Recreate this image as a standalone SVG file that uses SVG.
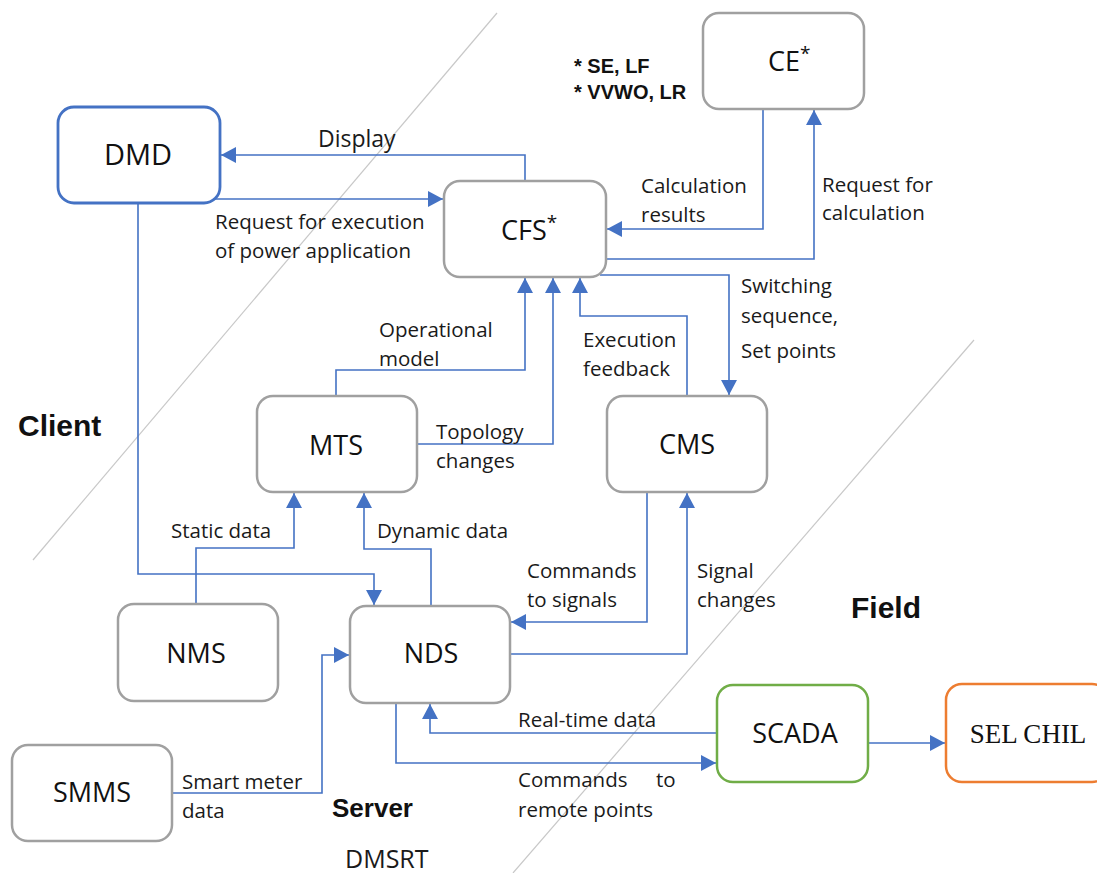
<svg xmlns="http://www.w3.org/2000/svg" width="1097" height="873" viewBox="0 0 1097 873">
<style>
.box{fill:#fff;stroke:#a0a0a0;stroke-width:2.5}
.nl{font-family:"Open Sans","Noto Sans",sans-serif;font-size:27px;fill:#111;text-anchor:middle}
.lb{font-family:"Open Sans","Noto Sans",sans-serif;font-size:20.5px;fill:#1a1a1a}
.bd{font-family:"Liberation Sans",Arial,sans-serif;font-weight:bold;fill:#111}
.cn{fill:none;stroke:#4472C4;stroke-width:1.6}
.dg{stroke:#c8c8c8;stroke-width:1.2}
</style>
<defs>
<marker id="ah" markerUnits="userSpaceOnUse" markerWidth="15" markerHeight="16" refX="15" refY="8" orient="auto">
<path d="M0,0 L15,8 L0,16 z" fill="#4472C4"/>
</marker>
</defs>
<rect width="1097" height="873" fill="#fff"/>
<g id="dividers">
<line class="dg" x1="497" y1="13" x2="33" y2="560"/>
<line class="dg" x1="974" y1="340" x2="513" y2="873"/>
</g>
<g id="connectors">
<path class="cn" d="M525,181 V155 H221" marker-end="url(#ah)"/>
<path class="cn" d="M210,199 H443" marker-end="url(#ah)"/>
<path class="cn" d="M138,203 V574 H374 V605" marker-end="url(#ah)"/>
<path class="cn" d="M763,109 V229 H607" marker-end="url(#ah)"/>
<path class="cn" d="M604,259 H814 V110" marker-end="url(#ah)"/>
<path class="cn" d="M600,275 H729 V395" marker-end="url(#ah)"/>
<path class="cn" d="M336,396 V370 H525 V278" marker-end="url(#ah)"/>
<path class="cn" d="M417,444 H553 V278" marker-end="url(#ah)"/>
<path class="cn" d="M687,396 V316 H580 V278" marker-end="url(#ah)"/>
<path class="cn" d="M196,604 V548 H294 V493" marker-end="url(#ah)"/>
<path class="cn" d="M431,606 V549 H364 V493" marker-end="url(#ah)"/>
<path class="cn" d="M647,492 V622 H511" marker-end="url(#ah)"/>
<path class="cn" d="M510,654 H687 V493" marker-end="url(#ah)"/>
<path class="cn" d="M172,793 H322 V655 H349" marker-end="url(#ah)"/>
<path class="cn" d="M717,733 H430 V704" marker-end="url(#ah)"/>
<path class="cn" d="M396,703 V763 H716" marker-end="url(#ah)"/>
<path class="cn" d="M868,743 H945" marker-end="url(#ah)"/>
</g>
<g id="DMD"><rect x="58" y="107" width="162" height="96" rx="16" fill="#fff" stroke="#4472C4" stroke-width="2.8"/><text class="nl" x="138" y="165" style="font-size:29px">DMD</text></g>
<g id="CFS"><rect class="box" x="444" y="181" width="162" height="96" rx="16"/><text class="nl" x="501" y="240" style="text-anchor:start">CFS<tspan dy="-11" style="font-size:19px">*</tspan></text></g>
<g id="CE"><rect class="box" x="703" y="13" width="161" height="96" rx="16"/><text class="nl" x="768" y="71" style="text-anchor:start">CE<tspan dy="-11" style="font-size:19px">*</tspan></text></g>
<g id="MTS"><rect class="box" x="257" y="396" width="160" height="96" rx="16"/><text class="nl" x="336" y="455">MTS</text></g>
<g id="CMS"><rect class="box" x="607" y="396" width="160" height="96" rx="16"/><text class="nl" x="687" y="454">CMS</text></g>
<g id="NMS"><rect class="box" x="118" y="604" width="160" height="97" rx="16"/><text class="nl" x="196" y="663">NMS</text></g>
<g id="NDS"><rect class="box" x="350" y="606" width="160" height="97" rx="16"/><text class="nl" x="431" y="663">NDS</text></g>
<g id="SMMS"><rect class="box" x="12" y="745" width="160" height="96" rx="16"/><text class="nl" x="92" y="802">SMMS</text></g>
<g id="SCADA"><rect x="717" y="685" width="151" height="97" rx="16" fill="#fff" stroke="#70AD47" stroke-width="2.5"/><text class="nl" x="795" y="743">SCADA</text></g>
<g id="SELCHIL"><rect x="946" y="684" width="162" height="98" rx="16" fill="#fff" stroke="#ED7D31" stroke-width="2.5"/><text x="1028" y="743" font-family="'Liberation Serif','Times New Roman',serif" font-size="27" fill="#111" text-anchor="middle">SEL CHIL</text></g>
<g id="labels">
<text class="lb" x="318" y="147" style="font-size:23px">Display</text>
<text class="lb" x="215" y="229">Request for execution</text>
<text class="lb" x="215" y="258">of power application</text>
<text class="lb" x="641" y="193">Calculation</text>
<text class="lb" x="641" y="222">results</text>
<text class="lb" x="822" y="192">Request for</text>
<text class="lb" x="822" y="220">calculation</text>
<text class="lb" x="741" y="293">Switching</text>
<text class="lb" x="741" y="323">sequence,</text>
<text class="lb" x="741" y="358">Set points</text>
<text class="lb" x="379" y="337">Operational</text>
<text class="lb" x="379" y="366">model</text>
<text class="lb" x="436" y="439">Topology</text>
<text class="lb" x="436" y="468">changes</text>
<text class="lb" x="583" y="347">Execution</text>
<text class="lb" x="583" y="376">feedback</text>
<text class="lb" x="171" y="538">Static data</text>
<text class="lb" x="377" y="538">Dynamic data</text>
<text class="lb" x="527" y="578">Commands</text>
<text class="lb" x="527" y="607">to signals</text>
<text class="lb" x="697" y="578">Signal</text>
<text class="lb" x="697" y="607">changes</text>
<text class="lb" x="518" y="727">Real-time data</text>
<text class="lb" x="518" y="787">Commands</text>
<text class="lb" x="656" y="787">to</text>
<text class="lb" x="518" y="817">remote points</text>
<text class="lb" x="182" y="789">Smart meter</text>
<text class="lb" x="182" y="818">data</text>
<text class="bd" x="574" y="73" style="font-size:20px">* SE, LF</text>
<text class="bd" x="574" y="99" style="font-size:20px">* VVWO, LR</text>
<text class="bd" x="18" y="436" style="font-size:30px">Client</text>
<text class="bd" x="851" y="618" style="font-size:30px">Field</text>
<text class="bd" x="332" y="817" style="font-size:26px">Server</text>
<text class="lb" x="345" y="868" style="font-size:25px">DMSRT</text>
</g>
</svg>
